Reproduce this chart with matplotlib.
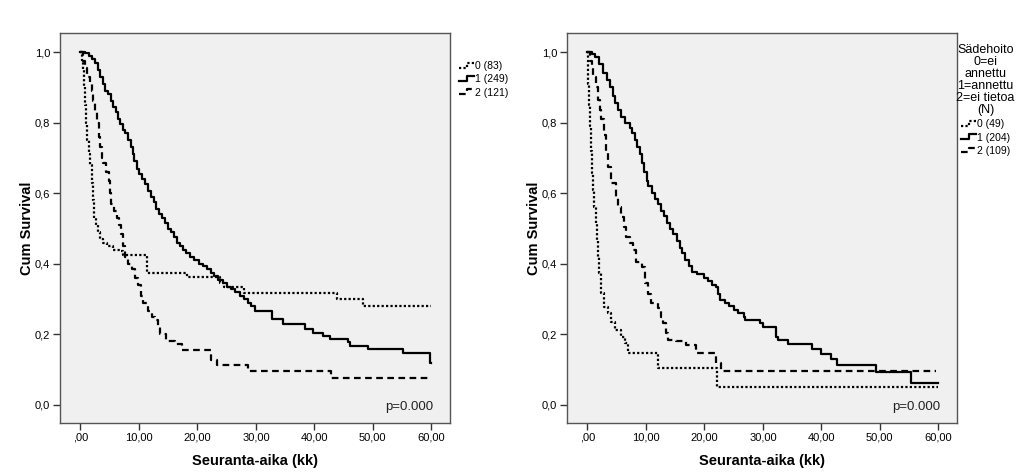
import matplotlib
matplotlib.use('Agg')
import matplotlib.pyplot as plt
from matplotlib.lines import Line2D
from matplotlib.legend_handler import HandlerLine2D

plt.rcParams['font.family'] = ['Liberation Sans', 'DejaVu Sans']

# left panel (all groups)
l_solid_t = [0, 0.8, 1.5, 2.0, 2.5, 3.0, 3.4, 3.8, 4.2, 4.7, 5.2, 5.6, 6.0, 6.4, 6.8, 7.2, 7.7, 8.2, 8.6, 8.9,
             9.2, 9.6, 10.0, 10.5, 11.0, 11.5, 12.0, 12.5, 13.0, 13.5, 14.0, 14.5, 15.0, 15.5, 16.0, 16.5, 17.0,
             17.5, 18.0, 18.8, 19.5, 20.2, 21.0, 21.7, 22.3, 22.9, 23.5, 24.3, 25.0, 25.8, 26.5, 27.3, 28.0, 28.6,
             29.2, 29.8, 32.7, 34.7, 38.4, 39.8, 41.5, 42.6, 45.8, 46.1, 49.2, 55.2, 59.7, 60.0]
l_solid_s = [1.0, 0.996, 0.99, 0.98, 0.97, 0.95, 0.93, 0.91, 0.89, 0.88, 0.86, 0.845, 0.83, 0.81, 0.795, 0.78,
             0.77, 0.75, 0.73, 0.71, 0.69, 0.67, 0.655, 0.64, 0.625, 0.605, 0.59, 0.575, 0.555, 0.54, 0.53, 0.515,
             0.50, 0.49, 0.475, 0.46, 0.45, 0.44, 0.43, 0.42, 0.41, 0.40, 0.395, 0.385, 0.375, 0.365, 0.355, 0.345,
             0.335, 0.33, 0.32, 0.31, 0.30, 0.29, 0.28, 0.265, 0.245, 0.23, 0.215, 0.205, 0.195, 0.187, 0.178,
             0.168, 0.158, 0.146, 0.118, 0.118]
l_dot_t = [0, 0.2, 0.4, 0.6, 0.8, 1.0, 1.2, 1.4, 1.6, 1.9, 2.1, 2.3, 2.6, 3.0, 3.4, 3.9, 4.5, 5.5, 6.8, 7.3,
           11.3, 18.2, 23.8, 24.5, 28.0, 43.8, 48.3, 60.0]
l_dot_s = [1.0, 0.97, 0.95, 0.90, 0.85, 0.80, 0.75, 0.71, 0.68, 0.63, 0.58, 0.53, 0.51, 0.49, 0.47, 0.46, 0.45,
           0.44, 0.435, 0.425, 0.375, 0.362, 0.347, 0.333, 0.318, 0.300, 0.280, 0.280]
l_dash_t = [0, 0.5, 0.8, 1.2, 1.6, 1.9, 2.2, 2.5, 2.8, 3.1, 3.3, 3.6, 3.9, 4.3, 4.8, 5.0, 5.2, 5.7, 6.2, 6.6,
            7.0, 7.3, 7.6, 8.2, 8.8, 9.3, 9.9, 10.3, 10.7, 11.6, 12.2, 12.7, 13.2, 13.6, 14.7, 16.2, 17.3, 22.4,
            23.3, 28.7, 42.9, 59.7]
l_dash_s = [1.0, 0.975, 0.955, 0.93, 0.91, 0.89, 0.86, 0.83, 0.80, 0.76, 0.73, 0.70, 0.685, 0.66, 0.635, 0.60,
            0.57, 0.55, 0.53, 0.51, 0.485, 0.45, 0.42, 0.40, 0.385, 0.36, 0.34, 0.31, 0.29, 0.265, 0.25, 0.24,
            0.22, 0.20, 0.18, 0.173, 0.156, 0.127, 0.113, 0.096, 0.077, 0.077]

# right panel (Sädehoito)
r_solid_t = [0, 0.8, 1.3, 2.0, 2.7, 3.3, 3.9, 4.3, 4.7, 5.3, 5.8, 6.5, 7.3, 7.7, 8.1, 8.5, 8.9, 9.3, 9.7, 10.1,
             10.4, 11.0, 11.6, 12.1, 12.6, 13.1, 13.6, 14.2, 14.7, 15.3, 15.8, 16.2, 16.7, 17.3, 17.9, 18.8, 19.9,
             20.7, 21.3, 21.9, 22.3, 22.7, 23.5, 24.2, 25.0, 25.8, 26.7, 27.0, 29.5, 30.1, 32.3, 32.6, 34.3, 38.4,
             39.9, 41.6, 42.7, 49.3, 55.3, 60.0]
r_solid_s = [1.0, 0.995, 0.985, 0.965, 0.94, 0.92, 0.90, 0.875, 0.855, 0.835, 0.815, 0.80, 0.785, 0.77, 0.75,
             0.73, 0.71, 0.685, 0.66, 0.635, 0.62, 0.60, 0.585, 0.57, 0.55, 0.535, 0.515, 0.50, 0.485, 0.465,
             0.445, 0.43, 0.41, 0.395, 0.378, 0.37, 0.36, 0.35, 0.34, 0.335, 0.315, 0.298, 0.29, 0.28, 0.27, 0.26,
             0.248, 0.241, 0.231, 0.220, 0.193, 0.184, 0.172, 0.159, 0.144, 0.129, 0.113, 0.094, 0.061, 0.061]
r_dot_t = [0, 0.1, 0.3, 0.5, 0.65, 0.8, 1.0, 1.2, 1.4, 1.6, 1.75, 1.9, 2.3, 2.9, 3.5, 4.1, 4.7, 5.8, 6.4, 7.0,
           12.1, 22.1, 60.0]
r_dot_s = [1.0, 0.91, 0.85, 0.79, 0.72, 0.656, 0.61, 0.562, 0.515, 0.467, 0.42, 0.373, 0.316, 0.278, 0.26,
           0.236, 0.212, 0.193, 0.175, 0.146, 0.104, 0.052, 0.052]
r_dash_t = [0, 0.4, 0.7, 1.0, 1.4, 1.8, 2.1, 2.4, 2.9, 3.2, 3.5, 4.1, 4.9, 5.3, 5.8, 6.2, 6.6, 7.2, 7.8, 8.3,
            9.4, 9.8, 10.3, 10.9, 12.1, 12.5, 12.9, 13.4, 13.8, 15.2, 16.9, 18.6, 22.0, 22.9, 59.6]
r_dash_s = [1.0, 0.975, 0.958, 0.93, 0.90, 0.865, 0.835, 0.81, 0.765, 0.72, 0.675, 0.63, 0.59, 0.56, 0.533,
            0.505, 0.477, 0.46, 0.44, 0.406, 0.392, 0.345, 0.315, 0.288, 0.274, 0.25, 0.231, 0.205, 0.184, 0.18,
            0.17, 0.146, 0.118, 0.096, 0.096]

left_labels = ['0 (83)', '1 (249)', '2 (121)']
right_labels = ['0 (49)', '1 (204)', '2 (109)']
right_title = 'Sädehoito\n0=ei\nannettu\n1=annettu\n2=ei tietoa\n(N)'

x_ticks = [0, 10, 20, 30, 40, 50, 60]
x_ticklabels = [',00', '10,00', '20,00', '30,00', '40,00', '50,00', '60,00']
y_ticks = [0, 0.2, 0.4, 0.6, 0.8, 1.0]
y_ticklabels = ['0,0', '0,2', '0,4', '0,6', '0,8', '1,0']

styles = [dict(ls=(0, (1, 1)), lw=1.6), dict(ls='-', lw=1.6), dict(ls=(0, (3, 2)), lw=1.6)]


class StepHandler(HandlerLine2D):
    # little step glyph like SPSS legend
    def create_artists(self, legend, orig_handle, xdescent, ydescent, width, height, fontsize, trans):
        x0 = -xdescent
        xs = [x0, x0 + 0.55 * width, x0 + 0.55 * width, x0 + width]
        ys = [-ydescent + 0.2 * height] * 2 + [-ydescent + 0.85 * height] * 2
        line = Line2D(xs, ys)
        self.update_prop(line, orig_handle, legend)
        line.set_transform(trans)
        return [line]


fig = plt.figure(figsize=(10.24, 4.74), dpi=100)
ax1 = fig.add_axes([60 / 1024, 51 / 474, 390 / 1024, 390 / 474])
ax2 = fig.add_axes([567 / 1024, 51 / 474, 390 / 1024, 390 / 474])

panels = [(ax1, [(l_dot_t, l_dot_s), (l_solid_t, l_solid_s), (l_dash_t, l_dash_s)]),
          (ax2, [(r_dot_t, r_dot_s), (r_solid_t, r_solid_s), (r_dash_t, r_dash_s)])]

handles_all = []
for ax, curves in panels:
    ax.set_facecolor('#f0f0f0')
    hs = []
    for (t, s), st in zip(curves, styles):
        h, = ax.step(t, s, where='post', color='black', **st)
        hs.append(h)
    handles_all.append(hs)
    ax.set_xlim(-3.5, 63.2)
    ax.set_ylim(-0.051, 1.054)
    ax.set_xticks(x_ticks)
    ax.set_xticklabels(x_ticklabels)
    ax.set_yticks(y_ticks)
    ax.set_yticklabels(y_ticklabels)
    ax.tick_params(direction='out', length=5, width=1, color='#333333', labelsize=8, pad=2)
    for sp in ax.spines.values():
        sp.set_color('#555555')
        sp.set_linewidth(1)
    ax.set_xlabel('Seuranta-aika (kk)', fontsize=10.5, fontweight='bold', labelpad=8)
    ax.set_ylabel('Cum Survival', fontsize=10.5, fontweight='bold', labelpad=1)
    ax.text(0.958, 0.04, 'p=0.000', transform=ax.transAxes, ha='right', va='center', fontsize=9.5, color='#222222')

fig.legend(handles_all[0], left_labels, loc='upper left', bbox_to_anchor=(450 / 1024, 1 - 52 / 474),
           frameon=False, fontsize=7.5, handlelength=1.4, handletextpad=0.1, labelspacing=0.3,
           handler_map={Line2D: StepHandler()})
leg2 = fig.legend(handles_all[1], right_labels, loc='upper left', bbox_to_anchor=(947 / 1024, 1 - 35 / 474),
                  frameon=False, fontsize=7.5, handlelength=1.4, handletextpad=0.1, labelspacing=0.3,
                  title=right_title, title_fontsize=9, handler_map={Line2D: StepHandler()})
leg2.get_title().set_multialignment('center')
leg2.get_title().set_linespacing(1.0)

fig.savefig('out.png', dpi=100)
